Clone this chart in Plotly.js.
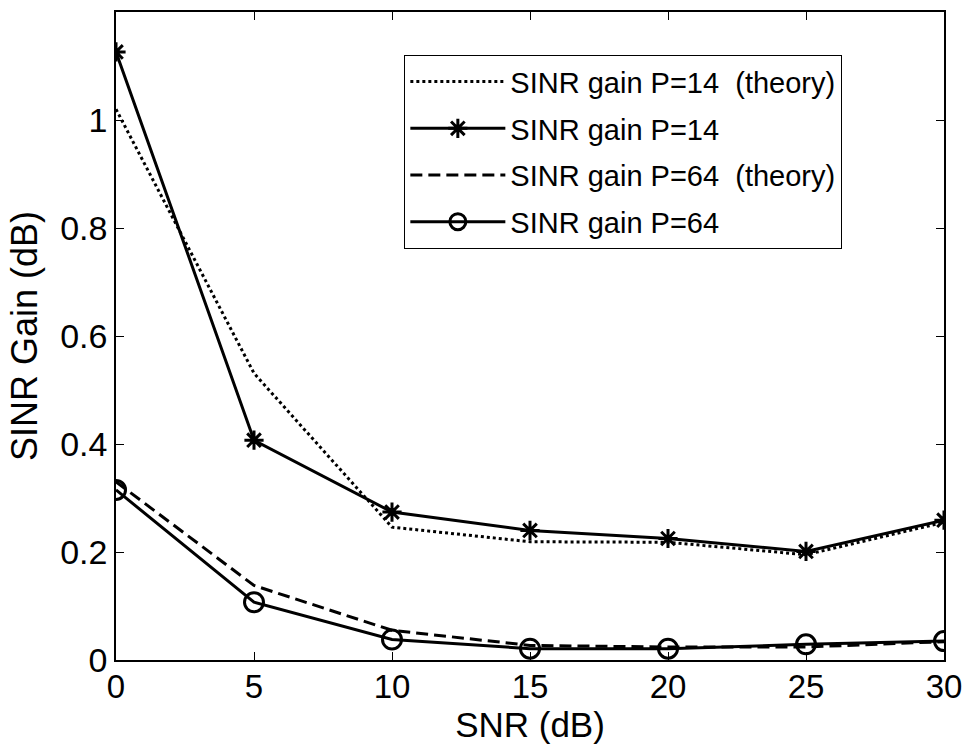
<!DOCTYPE html>
<html>
<head>
<meta charset="utf-8">
<script src="https://cdn.plot.ly/plotly-3.0.1.min.js"></script>
<style>html,body{margin:0;padding:0;background:#fff;}#chart{width:966px;height:746px;}</style>
</head>
<body>
<div id="chart"></div>
<script>
const snr = [0, 5, 10, 15, 20, 25, 30];
const p14Theory = [1.02, 0.531, 0.246, 0.219, 0.218, 0.195, 0.255];
const p14Sim = [1.126, 0.407, 0.274, 0.240, 0.225, 0.201, 0.259];
const p64Theory = [0.33, 0.138, 0.055, 0.027, 0.024, 0.024, 0.034];
const p64Sim = [0.315, 0.107, 0.038, 0.021, 0.021, 0.029, 0.035];
const names = ['SINR gain P=14\u00a0\u00a0(theory)', 'SINR gain P=14', 'SINR gain P=64\u00a0\u00a0(theory)', 'SINR gain P=64'];
const xTicks = [0, 5, 10, 15, 20, 25, 30];
const yTicks = [0, 0.2, 0.4, 0.6, 0.8, 1];
const yTickText = ['0', '0.2', '0.4', '0.6', '0.8', '1'];

const traces = [
  {x: snr, y: p14Theory, name: names[0], legendgroup: 'a', mode: 'lines', line: {color: '#000', width: 3, dash: 'dot'}},
  {x: snr, y: p14Sim, name: names[1], legendgroup: 'b', mode: 'lines+markers', line: {color: '#000', width: 3},
   marker: {symbol: 'asterisk-open', size: 16, color: '#000', line: {color: '#000', width: 3}}},
  {x: snr, y: p64Theory, name: names[2], legendgroup: 'c', mode: 'lines', line: {color: '#000', width: 3, dash: '12px,6px'}},
  {x: snr, y: p64Sim, name: names[3], legendgroup: 'd', mode: 'lines+markers', line: {color: '#000', width: 3},
   marker: {symbol: 'circle-open', size: 19, color: '#000', line: {color: '#000', width: 3}}}
];

const fam = 'Liberation Sans, Arial, sans-serif';
const layout = {
  width: 966, height: 746,
  margin: {l: 116, r: 22, t: 12, b: 86},
  paper_bgcolor: '#fff', plot_bgcolor: '#fff',
  font: {family: fam, size: 34, color: '#000'},
  showlegend: true,
  legend: {
    x: 0.348, y: 0.9336, xanchor: 'left', yanchor: 'top',
    bordercolor: '#000', borderwidth: 1.2, bgcolor: '#fff',
    font: {family: fam, size: 29, color: '#000'},
    itemwidth: 95, tracegroupgap: 6
  },
  xaxis: {
    range: [0, 30], tickvals: xTicks,
    ticks: 'inside', ticklen: 8, tickwidth: 1, tickcolor: '#000',
    showline: true, linecolor: '#000', linewidth: 1.5, mirror: 'ticks',
    showgrid: false, zeroline: false, automargin: false,
    ticklabelstandoff: -3,
    tickfont: {family: fam, size: 33, color: '#000'},
    title: {text: 'SNR (dB)', font: {family: fam, size: 35, color: '#000'}, standoff: 5}
  },
  yaxis: {
    range: [0, 1.2], tickvals: yTicks, ticktext: yTickText,
    ticks: 'inside', ticklen: 8, tickwidth: 1, tickcolor: '#000',
    showline: true, linecolor: '#000', linewidth: 1.5, mirror: 'ticks',
    showgrid: false, zeroline: false, automargin: false,
    tickfont: {family: fam, size: 34, color: '#000'},
    title: {text: 'SINR Gain (dB)', font: {family: fam, size: 36, color: '#000'}, standoff: 12}
  }
};
Plotly.newPlot('chart', traces, layout, {displayModeBar: false});
</script>
</body>
</html>
